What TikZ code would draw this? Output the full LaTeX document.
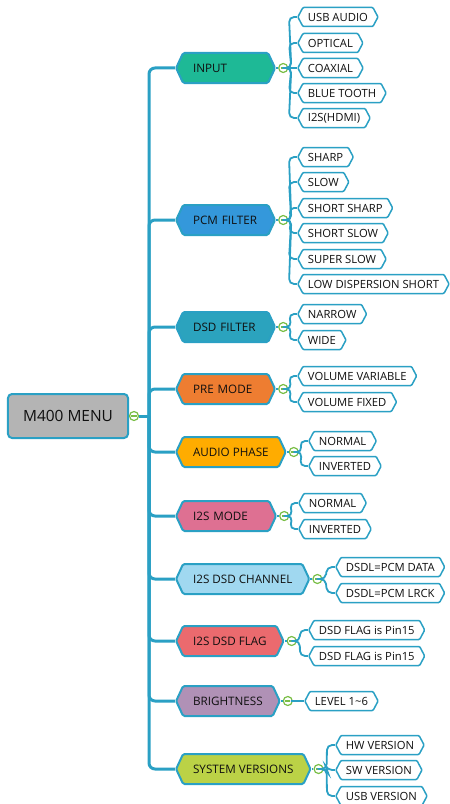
\documentclass[tikz,border=0pt]{standalone}
\usepackage{fontspec}
\setmainfont{Open Sans}
\usetikzlibrary{shapes.symbols}
\definecolor{edge}{RGB}{42,160,196}
\definecolor{togc}{RGB}{122,190,70}
\definecolor{cInput}{RGB}{30,185,150}
\definecolor{cPcm}{RGB}{52,152,219}
\definecolor{cDsd}{RGB}{43,163,190}
\definecolor{cPre}{RGB}{238,125,49}
\definecolor{cAudio}{RGB}{255,172,0}
\definecolor{cMode}{RGB}{222,112,146}
\definecolor{cChan}{RGB}{160,216,240}
\definecolor{cFlag}{RGB}{235,106,110}
\definecolor{cBright}{RGB}{176,145,182}
\definecolor{cSys}{RGB}{187,210,70}
\definecolor{cRoot}{RGB}{180,180,180}
\definecolor{txt}{RGB}{15,15,15}
\newcommand\fanto[2]{\draw[branch] (#1.east) -- ++(3,0) -- ([xshift=-8bp]#2.west) -- (#2.west);}
\begin{document}
\begin{tikzpicture}[x=1bp,y=-1bp,
  font=\fontsize{11.3}{13}\selectfont, text=txt,
  cat/.style={signal, signal to=west and east, signal pointer angle=130,
    draw=edge, line width=2bp, minimum height=30bp, inner xsep=10bp, inner ysep=0pt,
    anchor=west, font=\fontsize{11.7}{14}\selectfont, rounded corners=1.5bp},
  wide/.style={text width=65bp, align=left},
  leaf/.style={signal, signal to=west and east, signal pointer angle=124,
    draw=edge, line width=1.5bp, fill=white, minimum height=19bp,
    inner xsep=5bp, inner ysep=0pt, anchor=west, rounded corners=1bp},
  tog/.style={circle, draw=togc, fill=white, line width=1.2bp, minimum size=9bp, inner sep=0pt,
    path picture={\draw[togc, line width=1.2bp]
      ([xshift=-2.6bp]path picture bounding box.center) -- ([xshift=2.6bp]path picture bounding box.center);}},
  trunkline/.style={draw=edge, line width=3bp, rounded corners=6bp},
  branch/.style={draw=edge, line width=1.8bp, rounded corners=5bp},
]
\useasboundingbox (0,0) rectangle (450,804);

% root
\node[draw=edge, line width=2bp, fill=cRoot, rounded corners=4bp, minimum width=120bp,
  minimum height=44bp, font=\fontsize{15.5}{17}\selectfont] (root) at (68,416) {M400 MENU};
\node[tog] (rtog) at ([xshift=5bp]root.east) {};
\coordinate (trunk) at (149,416);

% categories
\node[cat, wide, fill=cInput] (input) at (175,68) {INPUT};
\node[cat, wide, fill=cPcm] (pcm) at (175,220) {PCM FILTER};
\node[cat, wide, fill=cDsd] (dsd) at (175,327) {DSD FILTER};
\node[cat, wide, fill=cPre] (pre) at (175,389) {PRE MODE};
\node[cat, fill=cAudio] (audio) at (175,452) {AUDIO PHASE};
\node[cat, text width=66bp, align=left, fill=cMode] (mode) at (175,516) {I2S MODE};
\node[cat, fill=cChan] (chan) at (175,579) {I2S DSD CHANNEL};
\node[cat, fill=cFlag] (flag) at (175,641) {I2S DSD FLAG};
\node[cat, fill=cBright] (bright) at (175,701) {BRIGHTNESS};
\node[cat, fill=cSys] (sys) at (175,769) {SYSTEM VERSIONS};

% toggles
\foreach \c in {input,pcm,dsd,pre,audio,mode,chan,flag,bright,sys}{
  \node[tog] (\c-t) at ([xshift=7bp]\c.east) {};
}

% leaves
\node[leaf] (usb) at (297,17) {USB AUDIO};
\node[leaf] (opt) at (297,43) {OPTICAL};
\node[leaf] (coax) at (297,68) {COAXIAL};
\node[leaf] (bt) at (297,93) {BLUE TOOTH};
\node[leaf] (hdmi) at (297,118) {I2S(HDMI)};

\node[leaf] (sharp) at (297,157) {SHARP};
\node[leaf] (slow) at (297,182) {SLOW};
\node[leaf] (ssharp) at (297,208) {SHORT SHARP};
\node[leaf] (sslow) at (297,233) {SHORT SLOW};
\node[leaf] (suslow) at (297,259) {SUPER SLOW};
\node[leaf] (lds) at (297,284) {LOW DISPERSION SHORT};

\node[leaf] (narrow) at (297,314) {NARROW};
\node[leaf] (wideleaf) at (297,340) {WIDE};

\node[leaf] (vvar) at (297,376) {VOLUME VARIABLE};
\node[leaf] (vfix) at (297,402) {VOLUME FIXED};

\node[leaf] (apn) at (308,441) {NORMAL};
\node[leaf] (api) at (308,466) {INVERTED};

\node[leaf] (mn) at (298,503) {NORMAL};
\node[leaf] (mi) at (298,529) {INVERTED};

\node[leaf] (cdata) at (335,567) {DSDL=PCM DATA};
\node[leaf] (clrck) at (335,593) {DSDL=PCM LRCK};

\node[leaf] (f1) at (308,630) {DSD FLAG is Pin15};
\node[leaf] (f2) at (308,656) {DSD FLAG is Pin15};

\node[leaf] (lvl) at (304,701) {LEVEL 1\textasciitilde 6};

\node[leaf] (hw) at (335,745) {HW VERSION};
\node[leaf] (sw) at (335,770) {SW VERSION};
\node[leaf] (usbv) at (335,796) {USB VERSION};

% trunk
\draw[draw=edge, line width=3bp] (rtog.east) -- (trunk);
\foreach \c in {input,pcm,dsd,pre,audio,mode,chan,flag,bright,sys}{
  \draw[trunkline] (trunk) |- (\c.west);
  \draw[draw=edge, line width=1.8bp] (\c.east) -- (\c-t.west);
}

% fans
\fanto{input-t}{usb}
\fanto{input-t}{opt}
\fanto{input-t}{coax}
\fanto{input-t}{bt}
\fanto{input-t}{hdmi}
\fanto{pcm-t}{sharp}
\fanto{pcm-t}{slow}
\fanto{pcm-t}{ssharp}
\fanto{pcm-t}{sslow}
\fanto{pcm-t}{suslow}
\fanto{pcm-t}{lds}
\fanto{dsd-t}{narrow}
\fanto{dsd-t}{wideleaf}
\fanto{pre-t}{vvar}
\fanto{pre-t}{vfix}
\fanto{audio-t}{apn}
\fanto{audio-t}{api}
\fanto{mode-t}{mn}
\fanto{mode-t}{mi}
\fanto{chan-t}{cdata}
\fanto{chan-t}{clrck}
\fanto{flag-t}{f1}
\fanto{flag-t}{f2}
\fanto{bright-t}{lvl}
\fanto{sys-t}{hw}
\fanto{sys-t}{sw}
\fanto{sys-t}{usbv}
\end{tikzpicture}
\end{document}
